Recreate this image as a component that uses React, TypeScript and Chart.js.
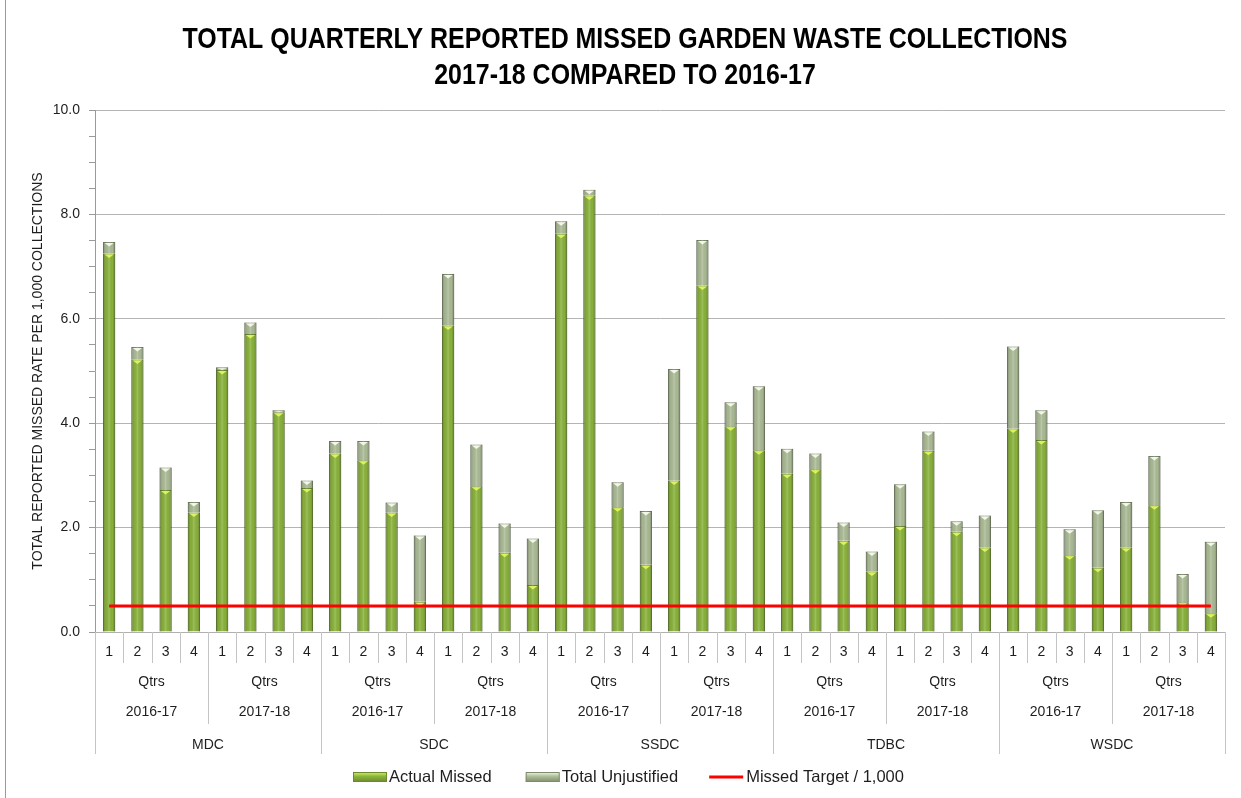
import React, { useEffect, useRef } from 'react';
import { Chart, registerables } from 'chart.js';

Chart.register(...registerables);

// ---------- DATA ----------
const districts = ['MDC', 'SDC', 'SSDC', 'TDBC', 'WSDC'];
const years = ['2016-17', '2017-18'];
const quarters = ['1', '2', '3', '4'];
const periodLabel = 'Qtrs';

// Actual missed rate per 1,000 collections (green, bottom segment)
const actualMissed = [
  7.25, 5.22, 2.72, 2.29, 5.02, 5.71, 4.21, 2.76, // MDC
  3.42, 3.29, 2.29, 0.58, 5.87, 2.79, 1.52, 0.90, // SDC
  7.63, 8.36, 2.39, 1.29, 2.90, 6.64, 3.94, 3.48, // SSDC
  3.03, 3.12, 1.75, 1.16, 2.03, 3.47, 1.92, 1.62, // TDBC
  3.90, 3.68, 1.47, 1.23, 1.62, 2.43, 0.57, 0.36, // WSDC
];

// Total unjustified rate per 1,000 collections (pale, top segment)
const totalUnjustified = [
  0.22, 0.24, 0.43, 0.20, 0.05, 0.22, 0.04, 0.14, // MDC
  0.24, 0.37, 0.19, 1.27, 0.99, 0.80, 0.56, 0.89, // SDC
  0.24, 0.11, 0.48, 1.03, 2.14, 0.87, 0.46, 1.23, // SSDC
  0.48, 0.30, 0.35, 0.38, 0.80, 0.37, 0.20, 0.61, // TDBC
  1.57, 0.57, 0.50, 1.10, 0.87, 0.94, 0.54, 1.37, // WSDC
];

const missedTarget = 0.5;

const yMin = 0;
const yMax = 10;
const yMajorStep = 2;
const yMinorStep = 0.5;

const chartTitle = [
  'TOTAL QUARTERLY REPORTED MISSED GARDEN WASTE COLLECTIONS',
  '2017-18 COMPARED TO 2016-17',
];
const yAxisTitle = 'TOTAL REPORTED MISSED RATE PER 1,000 COLLECTIONS';
const legendNames = ['Actual Missed', 'Total Unjustified', 'Missed Target / 1,000'];

// ---------- STYLE ----------
const FONT = "'Liberation Sans', Arial, Helvetica, sans-serif";
const TITLE_FONT = "'Liberation Sans Narrow', 'Arial Narrow', 'Liberation Sans', Arial, sans-serif";
const TEXT = '#1e1e1e';
const GREEN = '#8bb43b';
const GREEN_BORDER = '#6a8a2b';
const PALE = '#adbd97';
const PALE_BORDER = '#7e8c6d';
const RED = '#ff0000';
const DIVIDER = '#c4c4c4';

const W = 1241;
const H = 798;

const labels = districts.flatMap((d) => years.flatMap((y) => quarters.map((q) => `${d} ${y} Q${q}`)));

function shadeBars(chart: any, args: any) {
  const meta = args.meta;
  if (meta.type !== 'bar') return;
  const ctx = chart.ctx;
  const isGreen = meta.index === 1;
  const area = chart.chartArea;
  ctx.save();
  ctx.beginPath();
  ctx.rect(area.left, area.top - 2, area.right - area.left, area.bottom - area.top + 2);
  ctx.clip();
  meta.data.forEach((el: any) => {
    const p = el.getProps(['x', 'y', 'base', 'width'], true);
    const left = p.x - p.width / 2;
    const top = Math.min(p.y, p.base);
    const h = Math.abs(p.base - p.y);
    if (h <= 0.5) return;
    const g = ctx.createLinearGradient(left, 0, left + p.width, 0);
    g.addColorStop(0, 'rgba(0,0,0,0.28)');
    g.addColorStop(0.22, 'rgba(0,0,0,0.05)');
    g.addColorStop(0.5, 'rgba(255,255,255,0.16)');
    g.addColorStop(0.78, 'rgba(0,0,0,0.03)');
    g.addColorStop(1, 'rgba(0,0,0,0.30)');
    ctx.fillStyle = g;
    ctx.fillRect(left, top, p.width, h);
    // little chevron highlight at top of segment
    const th = Math.min(3.5, h - 1);
    if (th > 0.5) {
      ctx.beginPath();
      ctx.moveTo(left + 1.5, top + 1);
      ctx.lineTo(left + p.width - 1.5, top + 1);
      ctx.lineTo(p.x, top + 1 + th);
      ctx.closePath();
      ctx.fillStyle = isGreen ? 'rgba(225,245,90,0.95)' : 'rgba(250,252,240,0.9)';
      ctx.fill();
    }
  });
  ctx.restore();
}

const decorPlugin = {
  id: 'decor',
  afterDatasetDraw(chart: any, args: any) {
    shadeBars(chart, args);
  },
  afterDraw(chart: any) {
    const ctx = chart.ctx;
    const area = chart.chartArea;
    const xs = chart.scales.x;
    const n = labels.length;
    const cw = (area.right - area.left) / n;

    ctx.save();

    // outer left border
    ctx.strokeStyle = '#9a9a9a';
    ctx.lineWidth = 1;
    ctx.beginPath();
    ctx.moveTo(5.5, 0);
    ctx.lineTo(5.5, H);
    ctx.stroke();

    // title
    ctx.fillStyle = '#000';
    ctx.font = `bold 30px ${TITLE_FONT}`;
    ctx.textAlign = 'center';
    ctx.textBaseline = 'middle';
    const w1 = ctx.measureText(chartTitle[0]).width;
    const sx = 885 / w1;
    ctx.save();
    ctx.translate(625, 0);
    ctx.scale(sx, 1);
    ctx.fillText(chartTitle[0], 0, 40);
    ctx.fillText(chartTitle[1], 0, 76);
    ctx.restore();

    // multi-level category axis
    ctx.strokeStyle = DIVIDER;
    ctx.lineWidth = 1;
    for (let k = 0; k <= n; k++) {
      const x = Math.round(area.left + k * cw) + 0.5;
      let yEnd = 663;
      if (k % 8 === 0) yEnd = 754;
      else if (k % 4 === 0) yEnd = 724;
      ctx.beginPath();
      ctx.moveTo(x, area.bottom);
      ctx.lineTo(x, yEnd);
      ctx.stroke();
    }
    ctx.fillStyle = TEXT;
    ctx.font = `14px ${FONT}`;
    ctx.textAlign = 'center';
    ctx.textBaseline = 'middle';
    for (let i = 0; i < n; i++) {
      ctx.fillText(quarters[i % quarters.length], xs.getPixelForValue(i), 652);
    }
    const perYear = quarters.length;
    for (let g = 0; g < n / perYear; g++) {
      const cx = (xs.getPixelForValue(g * perYear) + xs.getPixelForValue(g * perYear + perYear - 1)) / 2;
      ctx.fillText(periodLabel, cx, 682);
      ctx.fillText(years[g % years.length], cx, 712);
    }
    const perDistrict = quarters.length * years.length;
    for (let d = 0; d < districts.length; d++) {
      const cx = (xs.getPixelForValue(d * perDistrict) + xs.getPixelForValue(d * perDistrict + perDistrict - 1)) / 2;
      ctx.fillText(districts[d], cx, 745);
    }

    // legend
    ctx.font = `16.5px ${FONT}`;
    ctx.textAlign = 'left';
    const ly = 777;
    const drawBox = (x: number, base: string, light: string, border: string) => {
      const g = ctx.createLinearGradient(0, ly - 5, 0, ly + 5);
      g.addColorStop(0, light);
      g.addColorStop(0.45, base);
      g.addColorStop(1, border);
      ctx.fillStyle = g;
      ctx.fillRect(x, ly - 5, 34, 10);
      ctx.strokeStyle = border;
      ctx.lineWidth = 1;
      ctx.strokeRect(x + 0.5, ly - 4.5, 33, 9);
    };
    let x = 353;
    drawBox(x, GREEN, '#d8ef66', GREEN_BORDER);
    ctx.fillStyle = TEXT;
    ctx.fillText(legendNames[0], x + 36, ly);
    x = x + 36 + ctx.measureText(legendNames[0]).width + 34;
    drawBox(x, PALE, '#f0f5e4', PALE_BORDER);
    ctx.fillStyle = TEXT;
    ctx.fillText(legendNames[1], x + 36, ly);
    x = x + 36 + ctx.measureText(legendNames[1]).width + 31;
    ctx.strokeStyle = RED;
    ctx.lineWidth = 3;
    ctx.beginPath();
    ctx.moveTo(x, ly);
    ctx.lineTo(x + 34, ly);
    ctx.stroke();
    ctx.fillStyle = TEXT;
    ctx.fillText(legendNames[2], x + 37, ly);

    ctx.restore();
  },
};

export default function App() {
  const canvasRef = useRef<HTMLCanvasElement | null>(null);

  useEffect(() => {
    document.body.style.margin = '0';
    const canvas = canvasRef.current;
    if (!canvas) return;
    const chart = new Chart(canvas, {
      type: 'bar',
      data: {
        labels,
        datasets: [
          {
            type: 'line',
            label: legendNames[2],
            data: labels.map(() => missedTarget),
            borderColor: RED,
            backgroundColor: RED,
            borderWidth: 3,
            pointRadius: 0,
            fill: false,
            order: 0,
            stack: 'target',
          } as any,
          {
            type: 'bar',
            label: legendNames[0],
            data: actualMissed,
            backgroundColor: GREEN,
            borderColor: GREEN_BORDER,
            borderWidth: 1,
            barPercentage: 0.43,
            categoryPercentage: 1.0,
            order: 1,
            stack: 'bars',
          },
          {
            type: 'bar',
            label: legendNames[1],
            data: totalUnjustified,
            backgroundColor: PALE,
            borderColor: PALE_BORDER,
            borderWidth: 1,
            barPercentage: 0.43,
            categoryPercentage: 1.0,
            order: 1,
            stack: 'bars',
          },
        ],
      },
      options: {
        animation: false,
        responsive: false,
        layout: { padding: { left: 0, right: 16, top: 110, bottom: 0 } },
        plugins: {
          legend: { display: false },
          title: { display: false },
          tooltip: { enabled: false },
        },
        scales: {
          x: {
            stacked: true,
            grid: { display: false },
            border: { display: true, color: '#b0b0b0' },
            ticks: { display: false },
            afterFit: (s: any) => {
              s.height = 166;
            },
          },
          y: {
            stacked: true,
            min: yMin,
            max: yMax,
            afterFit: (s: any) => {
              s.width = 95;
            },
            ticks: {
              stepSize: yMinorStep,
              autoSkip: false,
              padding: 9,
              color: TEXT,
              font: { family: FONT, size: 14 },
              callback: (v: any) => (Math.abs(Number(v) % yMajorStep) < 1e-6 ? Number(v).toFixed(1) : ''),
            },
            grid: {
              color: (c: any) =>
                c.tick && Math.abs(c.tick.value % yMajorStep) < 1e-6 ? '#b4b4b4' : 'rgba(0,0,0,0)',
              tickColor: '#9a9a9a',
              tickLength: 6,
              drawTicks: true,
            },
            border: { display: true, color: '#9a9a9a' },
            title: {
              display: true,
              text: yAxisTitle,
              color: TEXT,
              font: { family: FONT, size: 14 },
              padding: { top: 30, bottom: 0 },
            },
          },
        },
      },
      plugins: [decorPlugin],
    });
    return () => chart.destroy();
  }, []);

  return (
    <div style={{ width: W, height: H, position: 'relative', background: '#fff' }}>
      <canvas ref={canvasRef} width={W} height={H} style={{ display: 'block' }} />
    </div>
  );
}
